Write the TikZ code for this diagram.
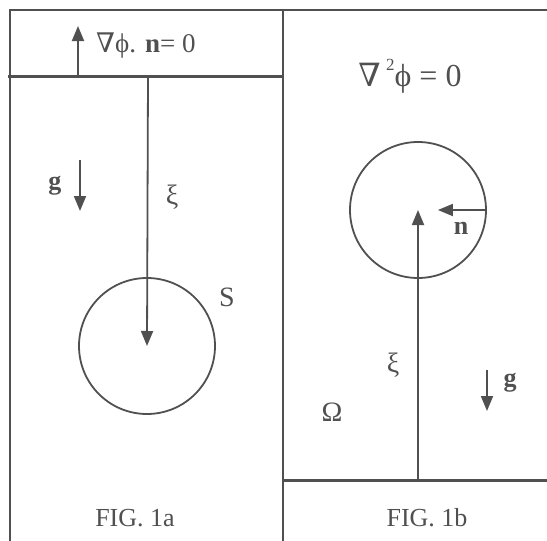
\documentclass[tikz,border=0pt]{standalone}
\usepackage{fontspec}
\setmainfont{Liberation Serif}
\newfontfamily\nablafont{DejaVu Serif}
\usetikzlibrary{arrows.meta}
\definecolor{ink}{HTML}{505050}
\newcommand{\nab}{{\nablafont ∇}}
\tikzset{
  frame/.style={draw=ink, line width=2pt},
  wall/.style={draw=ink, line width=3pt},
  vec/.style={draw=ink, line width=1.8pt, -{Triangle[length=15pt,width=12pt]}},
  body/.style={circle, draw=ink, line width=1.8pt, minimum size=136pt, inner sep=0pt},
  lab/.style={text=ink, inner sep=0pt, font=\fontsize{26}{30}\selectfont},
}
\begin{document}
\begin{tikzpicture}[x=1pt,y=-1pt]
\useasboundingbox (0,0) rectangle (547,541);
% frame
\coordinate (tl) at (9,10);
\coordinate (tr) at (547,10);
\coordinate (bl) at (10,541);
\coordinate (mt) at (283,10);
\coordinate (mb) at (283,541);
\draw[frame] (tl) -- (tr);
\draw[frame] (10,10) -- (bl);
\draw[frame] (mt) -- (mb);
% left panel wall
\coordinate (wl) at (8,76);
\coordinate (wr) at (283,76);
\draw[wall] (wl) -- (wr);
% right panel wall
\coordinate (rl) at (283,480);
\coordinate (rr) at (547,480);
\draw[wall] (rl) -- (rr);

% Fig 1a
\coordinate (nbase) at (78,76);
\coordinate (ntip) at (78,26);
\draw[vec] (nbase) -- (ntip);
\node[lab, anchor=west, font=\fontsize{27}{30}\selectfont] (bc) at (96,46) {\nab ϕ. \textbf{n}= 0};
\node[body] (S) at (147,346) {};
\coordinate (xitop) at (148,76);
\draw[vec] (xitop) -- (S.center);
\node[lab, font=\fontsize{28}{30}\selectfont] (xi1) at (172,197) {ξ};
\node[lab, font=\fontsize{28}{30}\selectfont] (S1) at (227,297) {S};
\coordinate (ga1) at (80,160);
\coordinate (gb1) at (80,211);
\draw[vec] (ga1) -- (gb1);
\node[lab] (g1) at (55,186) {\textbf{g}};
\node[lab] (f1) at (135,518) {FIG. 1a};

% Fig 1b
\node[lab, font=\fontsize{32}{36}\selectfont] (lap) at (410,76) {\nab\,\raisebox{0.5em}{\fontsize{17}{20}\selectfont 2}ϕ = 0};
\node[body] (B) at (418,210) {};
\coordinate (xibot) at (418,480);
\draw[vec] (xibot) -- (B.center);
\draw[vec] (B.east) -- ++(-49,0) coordinate (ntip2);
\node[lab] (n2) at (461,228) {\textbf{n}};
\node[lab, font=\fontsize{28}{30}\selectfont] (xi2) at (393,365) {ξ};
\coordinate (ga2) at (487,370);
\coordinate (gb2) at (487,411);
\draw[vec] (ga2) -- (gb2);
\node[lab] (g2) at (510,383) {\textbf{g}};
\node[lab, font=\fontsize{28}{30}\selectfont] (Om) at (332,412) {Ω};
\node[lab] (f2) at (427,518) {FIG. 1b};
\end{tikzpicture}
\end{document}
